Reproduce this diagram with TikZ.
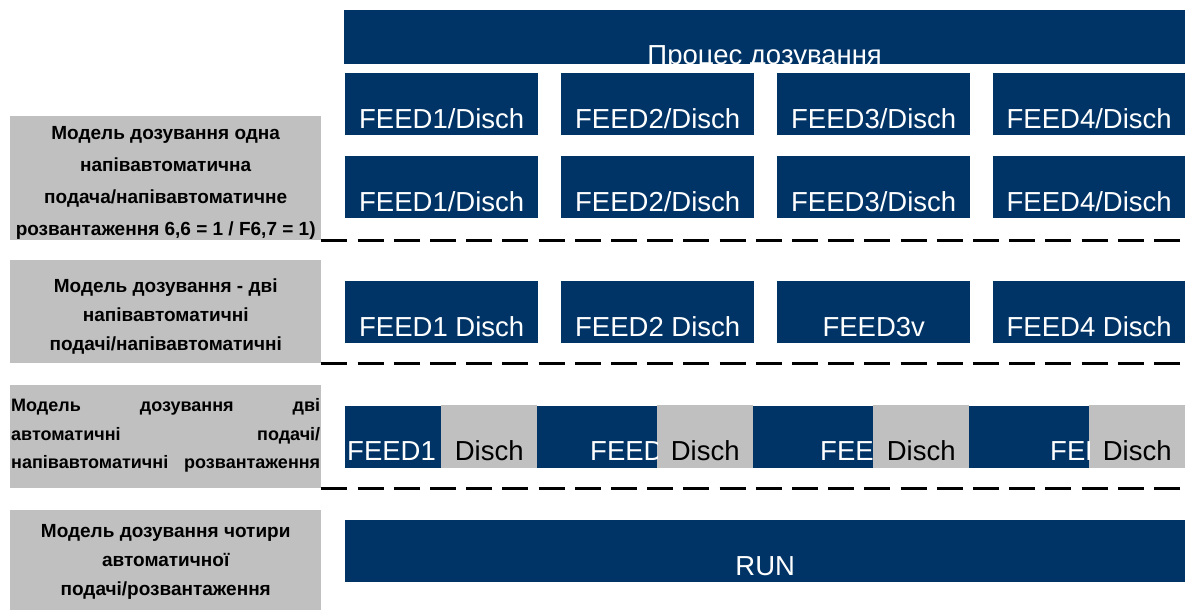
\documentclass[tikz,border=0pt]{standalone}
\usepackage{fontspec}
\setsansfont{Liberation Sans}
\usepackage{tikz}

\definecolor{feedblue}{RGB}{0,52,102}
\definecolor{labgrey}{RGB}{192,192,192}

\begin{document}
\begin{tikzpicture}[x=1pt,y=-1pt,font=\sffamily,
  feed/.style={fill=feedblue,text=white,font=\sffamily\fontsize{27.5}{27.5}\selectfont,inner sep=0pt,minimum width=193pt,text height=55pt,text depth=7pt,anchor=north west},
  disch/.style={fill=labgrey,text=black,font=\sffamily\fontsize{27.5}{27.5}\selectfont,inner sep=0pt,minimum width=96pt,text height=55pt,text depth=8pt,anchor=north west},
  feedtxt/.style={text=white,font=\sffamily\fontsize{27.5}{27.5}\selectfont,inner sep=0pt,anchor=base west},
  mode/.style={fill=labgrey,inner sep=0pt,minimum width=311pt,anchor=north west},
  modetxt/.style={text=black,inner sep=0pt,align=center,font=\sffamily\bfseries\fontsize{19}{30}\selectfont},
  sepline/.style={line width=3pt,dash pattern=on 26pt off 10.2pt}]
\useasboundingbox (0,0) rectangle (1185,610);
\node[feed,minimum width=841pt,text height=54pt,text depth=-1pt] (top) at (344,10){Процес дозування};
\node[feed] (a1) at (345,73){FEED1/Disch};
\node[feed] (a2) at (561,73){FEED2/Disch};
\node[feed] (a3) at (777,73){FEED3/Disch};
\node[feed,minimum width=192pt] (a4) at (993,73){FEED4/Disch};
\node[feed] (b1) at (345,156){FEED1/Disch};
\node[feed] (b2) at (561,156){FEED2/Disch};
\node[feed] (b3) at (777,156){FEED3/Disch};
\node[feed,minimum width=192pt] (b4) at (993,156){FEED4/Disch};
\node[feed] (c1) at (345,281){FEED1 Disch};
\node[feed] (c2) at (561,281){FEED2 Disch};
\node[feed] (c3) at (777,281){FEED3v};
\node[feed,minimum width=192pt] (c4) at (993,281){FEED4 Disch};
\node[feed,minimum width=840pt] (r4) at (345,406){};
\node[disch] (d1) at (441,405){Disch};
\node[disch] (d2) at (657,405){Disch};
\node[disch] (d3) at (873,405){Disch};
\node[disch,minimum width=96pt] (d4) at (1089,405){Disch};
\begin{scope}\clip (r4.south west) rectangle (d1.north west); \node[feedtxt] (f1) at (347,460){FEED1}; \end{scope}
\begin{scope}\clip (d1.south east) rectangle (d2.north west); \node[feedtxt] (f2) at (590,460){FEED}; \end{scope}
\begin{scope}\clip (d2.south east) rectangle (d3.north west); \node[feedtxt] (f3) at (820,460){FEE}; \end{scope}
\begin{scope}\clip (d3.south east) rectangle (d4.north west); \node[feedtxt] (f4) at (1050,460){FEE}; \end{scope}
\node[feed,minimum width=840pt] (run) at (345,520){RUN};
\node[mode,minimum height=124pt] (m1) at (10,116){};
\node[mode,minimum height=103pt] (m2) at (10,260){};
\node[mode,minimum height=103pt] (m3) at (10,385){};
\node[mode,minimum height=100pt] (m4) at (10,510){};
\node[modetxt,font=\sffamily\bfseries\fontsize{19}{32}\selectfont] (t1) at ([yshift=-5pt]m1.center){Модель дозування одна\\напівавтоматична\\подача/напівавтоматичне\\розвантаження 6,6 = 1 / F6,7 = 1)};
\node[modetxt,font=\sffamily\bfseries\fontsize{19}{29}\selectfont] (t2) at ([yshift=-5pt]m2.center){Модель дозування - дві\\напівавтоматичні\\подачі/напівавтоматичні};
\node[modetxt,align=left,font=\sffamily\bfseries\fontsize{18}{28.5}\selectfont] (t3) at ([yshift=1pt]m3.center){\makebox[309pt][s]{Модель дозування дві}\\\makebox[309pt][s]{автоматичні подачі/}\\\makebox[309pt][s]{напівавтоматичні розвантаження}};
\node[modetxt,font=\sffamily\bfseries\fontsize{19}{29}\selectfont] (t4) at ([yshift=-2pt]m4.center){Модель дозування чотири\\автоматичної\\подачі/розвантаження};
\draw[sepline] (m1.south east) -- (m1.south east -| top.east);
\draw[sepline] (m2.south east) -- (m2.south east -| top.east);
\draw[sepline] (m3.south east) -- (m3.south east -| top.east);
\end{tikzpicture}
\end{document}
